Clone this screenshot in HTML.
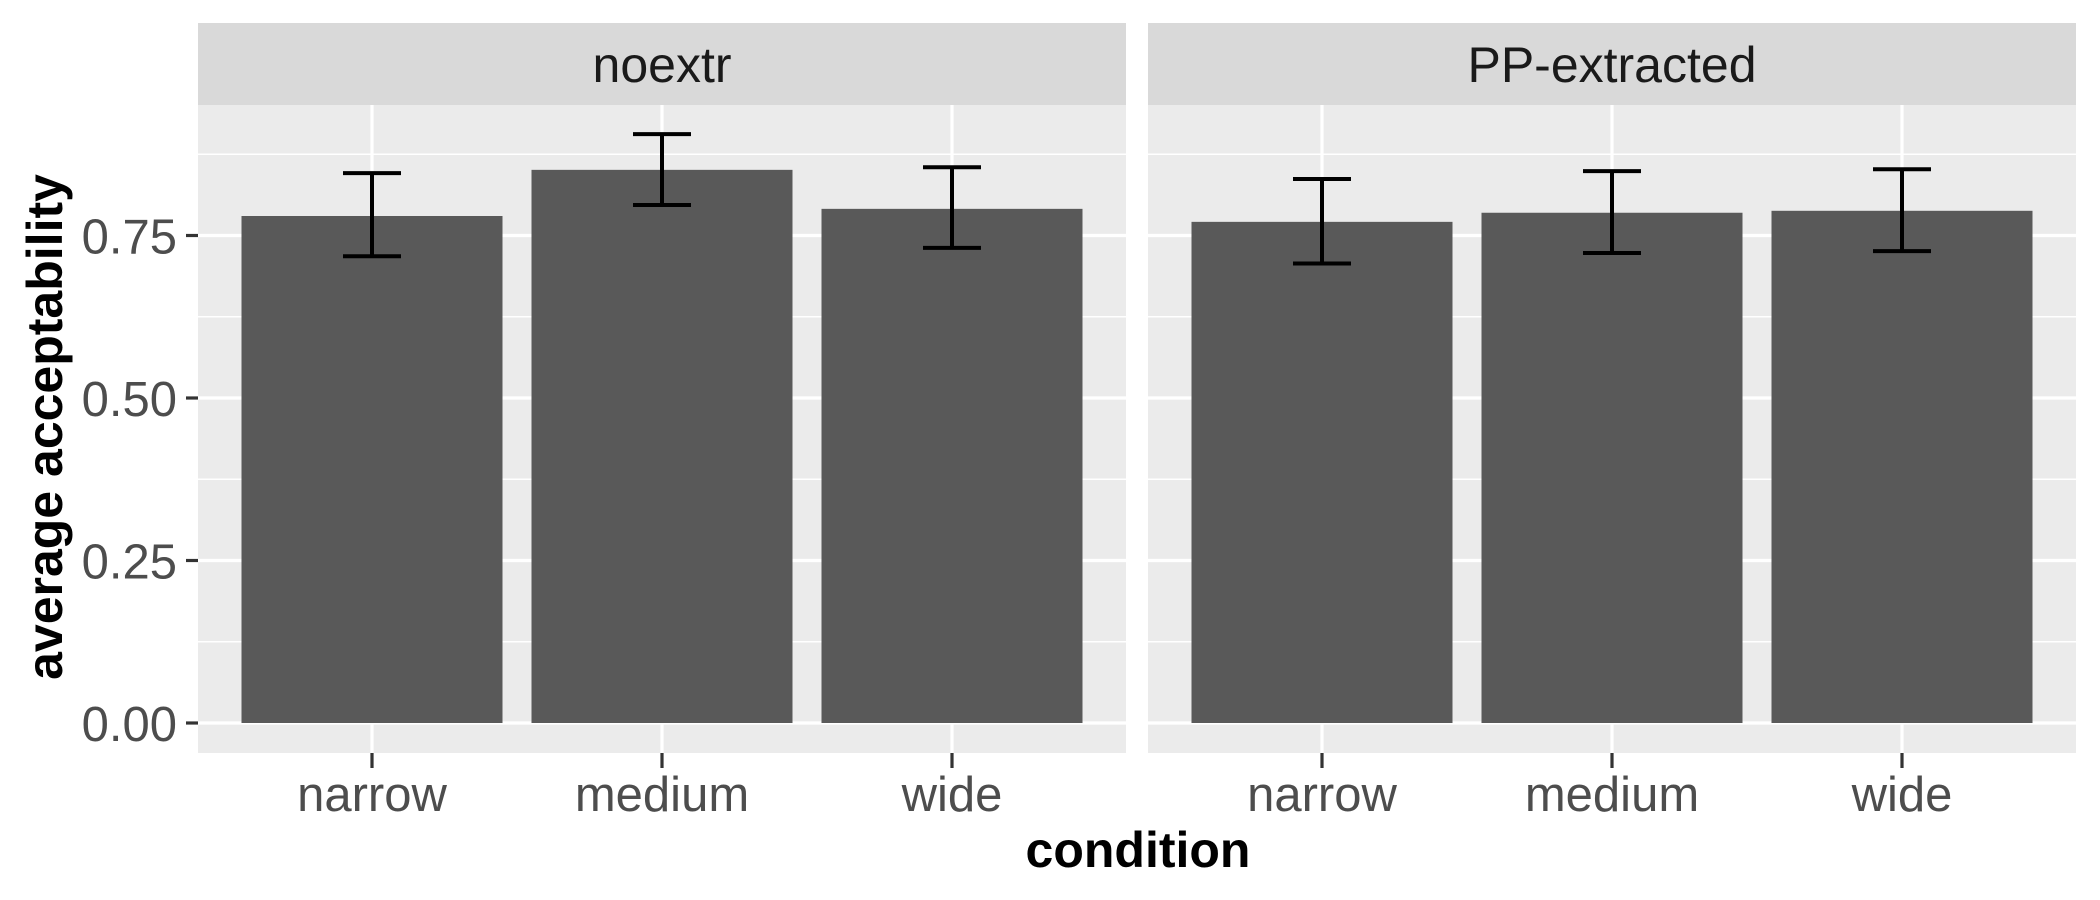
<!DOCTYPE html>
<html><head><meta charset="utf-8">
<style>
html,body{margin:0;padding:0;background:#fff;}
svg{display:block;font-family:"Liberation Sans",Arial,sans-serif;}
</style></head>
<body>
<svg id="chart" width="2100" height="900" viewBox="0 0 2100 900" xmlns="http://www.w3.org/2000/svg">
<text x="1138" y="867" text-anchor="middle" font-size="50" font-weight="bold" fill="#000">condition</text>
<text transform="translate(62,427) rotate(-90)" text-anchor="middle" font-size="50" font-weight="bold" fill="#000">average acceptability</text>
</svg>
<script>
const panels = ["noextr", "PP-extracted"];
const categories = ["narrow", "medium", "wide"];
const meanNoextr = [0.780, 0.851, 0.791];
const lowerNoextr = [0.718, 0.797, 0.731];
const upperNoextr = [0.846, 0.906, 0.855];
const meanPP = [0.771, 0.785, 0.788];
const lowerPP = [0.707, 0.723, 0.726];
const upperPP = [0.837, 0.849, 0.852];
const yTicks = [0, 0.25, 0.5, 0.75];
const yTickLabels = ["0.00", "0.25", "0.50", "0.75"];
const yMinor = [0.125, 0.375, 0.625, 0.875];

const svg = document.getElementById('chart');
const NS = 'http://www.w3.org/2000/svg';
function mk(tag, attrs, parent) {
  const e = document.createElementNS(NS, tag);
  for (const k in attrs) e.setAttribute(k, attrs[k]);
  (parent || svg).appendChild(e);
  return e;
}
const panelX = [198, 1148];
const panelW = 928;
const panelTop = 105, panelBottom = 753, stripTop = 23;
const y0 = 723, yPerUnit = 650;
function yScale(v) { return y0 - v * yPerUnit; }
const unit = panelW / 3.2;
function xScale(p, i) { return panelX[p] + (0.6 + i) * unit; }

const means = [meanNoextr, meanPP], lows = [lowerNoextr, lowerPP], ups = [upperNoextr, upperPP];

panels.forEach((name, p) => {
  const px = panelX[p];
  const g = mk('g', {});
  
  
  const bg = mk('rect', {x: px, y: panelTop, width: panelW, height: panelBottom - panelTop, fill: '#ebebeb'}, g);
  
  
  const strip = mk('rect', {x: px, y: stripTop, width: panelW, height: panelTop - stripTop, fill: '#d9d9d9'}, g);
  
  
  const st = mk('text', {x: px + panelW / 2, y: 82, 'text-anchor': 'middle', 'font-size': 50, fill: '#1a1a1a'}, g);
  st.textContent = name;
  
  
  yMinor.forEach(v => {
    const l = mk('line', {x1: px, x2: px + panelW, y1: yScale(v), y2: yScale(v), stroke: '#fff', 'stroke-width': 1.6}, g);
    
    
  });
  yTicks.forEach(v => {
    const l = mk('line', {x1: px, x2: px + panelW, y1: yScale(v), y2: yScale(v), stroke: '#fff', 'stroke-width': 3.2}, g);
    
    
  });
  categories.forEach((c, i) => {
    const cx = xScale(p, i);
    const l = mk('line', {x1: cx, x2: cx, y1: panelTop, y2: panelBottom, stroke: '#fff', 'stroke-width': 3.2}, g);
    
    
  });
  categories.forEach((c, i) => {
    const cx = xScale(p, i);
    const bw = 0.9 * unit;
    const b = mk('rect', {x: cx - bw / 2, y: yScale(means[p][i]), width: bw, height: yScale(0) - yScale(means[p][i]), fill: '#595959'}, g);
    
    
    const eg = mk('g', {stroke: '#000', 'stroke-width': 4, fill: 'none'}, g);
    
    
    const yl = yScale(lows[p][i]), yu = yScale(ups[p][i]);
    mk('line', {x1: cx, x2: cx, y1: yu, y2: yl}, eg);
    mk('line', {x1: cx - 29, x2: cx + 29, y1: yu, y2: yu}, eg);
    mk('line', {x1: cx - 29, x2: cx + 29, y1: yl, y2: yl}, eg);
    const t = mk('line', {x1: cx, x2: cx, y1: panelBottom, y2: panelBottom + 15, stroke: '#333', 'stroke-width': 3.2}, g);
    
    
    const tl = mk('text', {x: cx, y: 811, 'text-anchor': 'middle', 'font-size': 49, fill: '#4d4d4d'}, g);
    tl.textContent = c;
    
    
  });
});
yTicks.forEach((v, i) => {
  const t = mk('line', {x1: 186, x2: 198, y1: yScale(v), y2: yScale(v), stroke: '#333', 'stroke-width': 3.2});
  
  
  const tl = mk('text', {x: 177, y: yScale(v) + 18, 'text-anchor': 'end', 'font-size': 49, fill: '#4d4d4d'});
  tl.textContent = yTickLabels[i];
  
  
});
</script>
</body></html>
